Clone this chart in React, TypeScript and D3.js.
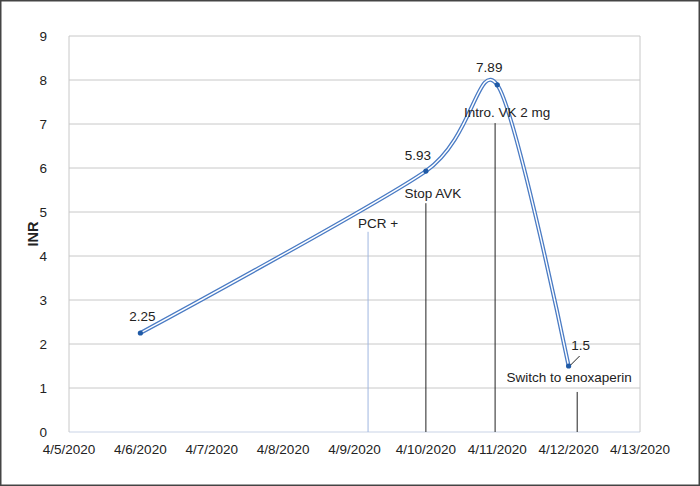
import React from "react";
import * as d3 from "d3";

const dates = ["2020-04-06", "2020-04-10", "2020-04-11", "2020-04-12"];
const inr = [2.25, 5.93, 7.89, 1.5];
const valueLabels = ["2.25", "5.93", "7.89", "1.5"];

const eventNames = ["PCR +", "Stop AVK", "Intro. VK 2 mg", "Switch to enoxaperin"];
const eventDays = [4.19, 5.0, 5.97, 7.12]; // days after 4/5/2020
const eventTops = [4.55, 5.2, 7.02, 0.91];
const eventColors = ["#9fb6e0", "#222", "#222", "#222"];

const yTicks = [0, 1, 2, 3, 4, 5, 6, 7, 8, 9];
const xTickLabels = ["4/5/2020", "4/6/2020", "4/7/2020", "4/8/2020", "4/9/2020", "4/10/2020", "4/11/2020", "4/12/2020", "4/13/2020"];

const W = 700, H = 486;
const L = 69, R = 640, T = 36, B = 432;

export default function App() {
  const x = d3.scaleLinear().domain([0, 8]).range([L, R]);
  const y = d3.scaleLinear().domain([0, 9]).range([B, T]);
  const start = new Date(2020, 3, 5).getTime();
  const dayOf = (s: string) => {
    const [yy, mm, dd] = s.split("-").map(Number);
    return Math.round((new Date(yy, mm - 1, dd).getTime() - start) / 86400000);
  };
  const pts: [number, number][] = dates.map((d, i) => [x(dayOf(d)), y(inr[i])]);
  const line = d3.line().curve(d3.curveCardinal.tension(0.2))(pts) || "";
  const font = "Liberation Sans, Arial, sans-serif";
  const labelOffsets: [number, number][] = [[2, -12], [-8, -11], [-8, -13], [12, -16]];
  const eventLabelPos: [number, number][] = [[10, -9], [7, -10], [12, -11], [-8, -15]];

  return (
    <svg width={W} height={H} style={{ position: "absolute", left: 0, top: 0, background: "#fff" }} fontFamily={font}>
      <rect x={0.75} y={0.75} width={W - 1.5} height={H - 1.5} fill="#fff" stroke="#444" strokeWidth={1.5} />
      {yTicks.map((t) => (
        <g key={t}>
          <line x1={L} x2={R} y1={y(t)} y2={y(t)} stroke={t === 0 ? "#c9d3e6" : "#c8c8c8"} strokeWidth={1} />
          <text x={L - 22} y={y(t)} dy="0.35em" textAnchor="end" fontSize={13.5} fill="#222">{t}</text>
        </g>
      ))}
      <line x1={L} x2={L} y1={T} y2={B} stroke="#c8c8c8" />
      <line x1={R} x2={R} y1={T} y2={B} stroke="#c8c8c8" />
      {xTickLabels.map((lab, i) => (
        <text key={lab} x={x(i)} y={B + 22} textAnchor="middle" fontSize={13.5} fill="#222">{lab}</text>
      ))}
      <text transform={`translate(38,${(T + B) / 2}) rotate(-90)`} textAnchor="middle" fontSize={14.5} fontWeight="bold" fill="#222">INR</text>
      {eventNames.map((n, i) => (
        <g key={n}>
          <line x1={x(eventDays[i])} x2={x(eventDays[i])} y1={y(eventTops[i])} y2={B} stroke={eventColors[i]} strokeWidth={1} />
        </g>
      ))}
      <path d={line} fill="none" stroke="#4a7bc4" strokeWidth={4} />
      <path d={line} fill="none" stroke="#fff" strokeWidth={1.4} />
      {pts.map((p, i) => (
        <circle key={i} cx={p[0]} cy={p[1]} r={2.6} fill="#1f5aa6" />
      ))}
      {pts.map((p, i) => (
        <text key={"l" + i} x={p[0] + labelOffsets[i][0]} y={p[1] + labelOffsets[i][1]} textAnchor="middle" fontSize={13.5} fill="#222">{valueLabels[i]}</text>
      ))}
      <line x1={pts[3][0] + 2} y1={pts[3][1] - 1} x2={pts[3][0] + 11} y2={pts[3][1] - 10} stroke="#222" strokeWidth={1} />
      {eventNames.map((n, i) => (
        <text key={"e" + n} x={x(eventDays[i]) + eventLabelPos[i][0]} y={y(eventTops[i]) + eventLabelPos[i][1]} dy="0.35em" textAnchor="middle" fontSize={13.5} fill="#222">{n}</text>
      ))}
    </svg>
  );
}
